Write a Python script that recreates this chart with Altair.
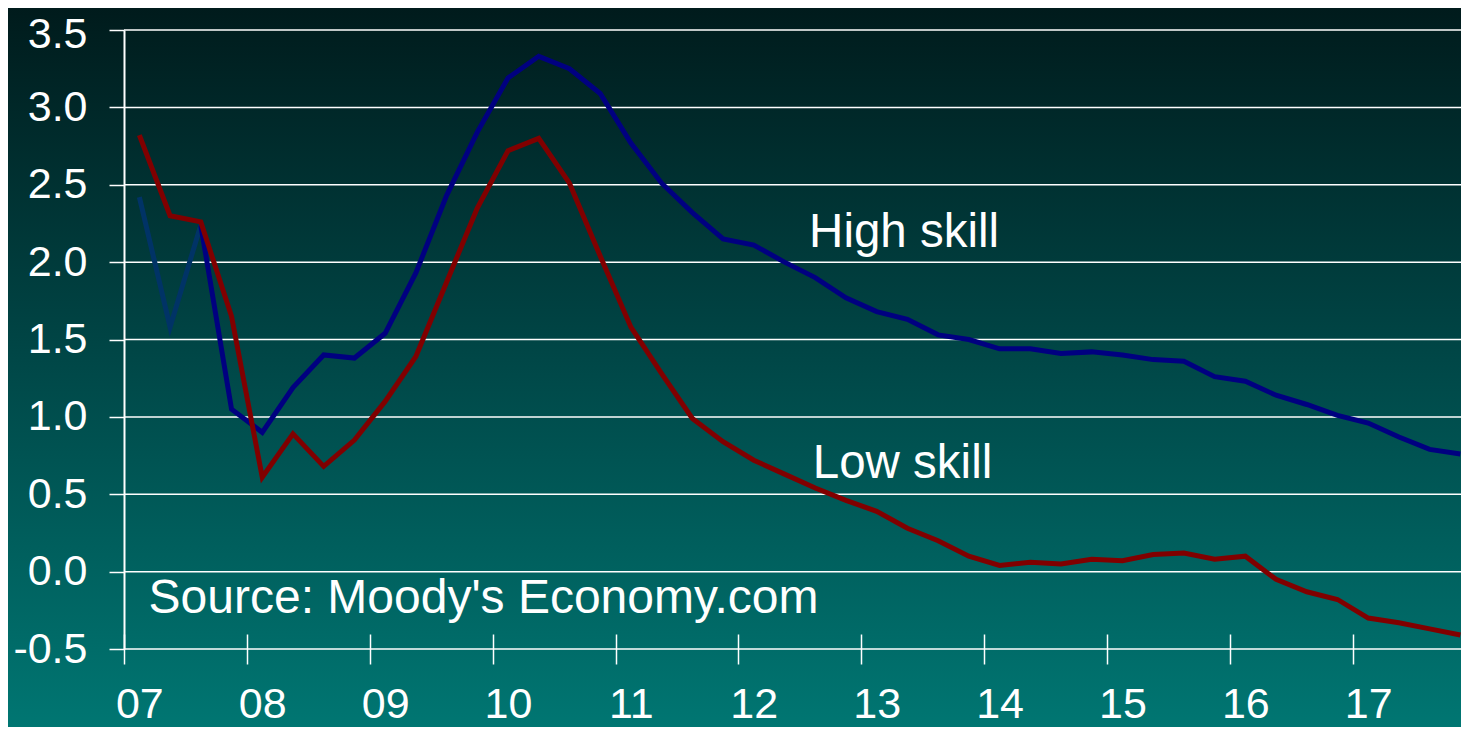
import altair as alt
import pandas as pd

# ---- data (quarterly, 2007Q1 .. 2017Q4) ----
start_year = 2007
high_skill = [2.42, 1.58, 2.24, 1.05, 0.90, 1.19, 1.40, 1.38, 1.54, 1.93, 2.43,
              2.84, 3.19, 3.33, 3.25, 3.09, 2.77, 2.51, 2.32, 2.15, 2.11, 2.00,
              1.90, 1.77, 1.68, 1.63, 1.53, 1.50, 1.44, 1.44, 1.41, 1.42, 1.40,
              1.37, 1.36, 1.26, 1.23, 1.14, 1.08, 1.01, 0.96, 0.87, 0.79, 0.76]
low_skill = [2.82, 2.30, 2.26, 1.65, 0.61, 0.89, 0.68, 0.85, 1.10, 1.39, 1.87,
             2.35, 2.72, 2.80, 2.51, 2.04, 1.58, 1.28, 0.99, 0.84, 0.72, 0.63,
             0.54, 0.46, 0.39, 0.28, 0.20, 0.10, 0.04, 0.06, 0.05, 0.08, 0.07,
             0.11, 0.12, 0.08, 0.10, -0.05, -0.13, -0.18, -0.30, -0.33, -0.37, -0.41]
year_ticks = list(range(2007, 2018))
y_ticks = [-0.5, 0.0, 0.5, 1.0, 1.5, 2.0, 2.5, 3.0, 3.5]
early_quarters = 3  # first segment of the high-skill line is drawn in another shade

segments = ["High skill (early)", "High skill", "Low skill"]
seg_colors = ["#003366", "#000080", "#800000"]

rows = []
for i, v in enumerate(high_skill):
    t = start_year + i / 4
    if i < early_quarters:
        rows.append({"t": t, "value": v, "segment": segments[0]})
    if i >= early_quarters - 1:
        rows.append({"t": t, "value": v, "segment": segments[1]})
for i, v in enumerate(low_skill):
    rows.append({"t": start_year + i / 4, "value": v, "segment": segments[2]})
df = pd.DataFrame(rows)
grid_df = pd.DataFrame({"v": y_ticks})

# ---- layout ----
W, H = 1337, 619
PAD = {"left": 116, "top": 22, "right": 0, "bottom": 78}
FONT = "Liberation Sans"
QUARTER_PX = 122.9 / 4 / 2  # half a quarter in px

x_scale = alt.Scale(domain=[2006.875, 2017.755], nice=False, zero=False)
y_scale = alt.Scale(domain=[-0.5, 3.5], nice=False, zero=False)

x_axis = alt.Axis(
    values=year_ticks,
    labelExpr="format(datum.value % 100, '02d')",
    tickOffset=-QUARTER_PX, labelOffset=QUARTER_PX,
    offset=-15, tickSize=30, tickColor="white", tickWidth=1.5,
    domain=False, grid=False, labelFlush=False, labelOverlap=False,
    labelFont=FONT, labelFontSize=43, labelColor="white",
    labelBaseline="alphabetic", labelPadding=53,
    title=None, zindex=1,
)
y_axis = alt.Axis(
    values=y_ticks,
    labelExpr="datum.value < 0 ? '-' + format(abs(datum.value), '.1f') : format(datum.value, '.1f')",
    labelOffset={"condition": {"test": "datum.value == 3.5", "value": 4}, "value": 0},
    tickSize=15, tickColor="white", tickWidth=1.5,
    domain=True, domainColor="white", domainWidth=2, grid=False,
    labelFlush=False, labelOverlap=False,
    labelFont=FONT, labelFontSize=43, labelColor="white", labelPadding=22,
    title=None, zindex=1,
)

gradient = alt.LinearGradient(
    gradient="linear",
    stops=[alt.GradientStop(color="#001b1c", offset=0),
           alt.GradientStop(color="#004848", offset=0.5),
           alt.GradientStop(color="#007672", offset=1)],
    x1=0, x2=0, y1=0, y2=1,
)

bg = alt.Chart(alt.Data(values=[{"bg": 1}])).mark_rect(fill=gradient).encode(
    x=alt.value(-PAD["left"]), x2=alt.value(W + 10),
    y=alt.value(-PAD["top"]), y2=alt.value(H + PAD["bottom"]),
)

grid = alt.Chart(grid_df).mark_rule(color="white", strokeWidth=1.5).encode(
    y=alt.Y("v:Q", scale=y_scale, axis=y_axis),
)

lines = alt.Chart(df).mark_line(strokeWidth=5).encode(
    x=alt.X("t:Q", scale=x_scale, axis=x_axis),
    y=alt.Y("value:Q", scale=y_scale, axis=y_axis),
    color=alt.Color("segment:N", scale=alt.Scale(domain=segments, range=seg_colors), legend=None),
    detail="segment:N",
)

def label(txt, x, y, size):
    return alt.Chart(alt.Data(values=[{"l": 1}])).mark_text(
        text=txt, align="left", baseline="alphabetic", font=FONT,
        fontSize=size, color="white",
    ).encode(x=alt.datum(x, scale=x_scale), y=alt.datum(y, scale=y_scale))

ann_high = label("High skill", 2012.45, 2.10, 47.5)
ann_low = label("Low skill", 2012.48, 0.603, 47.5)
ann_src = label("Source: Moody's Economy.com", 2007.075, -0.268, 48)

chart = alt.layer(bg, grid, lines, ann_high, ann_low, ann_src).properties(
    width=W, height=H,
    autosize=alt.AutoSizeParams(type="none"),
    padding=PAD,
    background="#00484a",
).configure_view(stroke=None)

chart.save("out.html", embed_options={"renderer": "svg", "actions": False})
